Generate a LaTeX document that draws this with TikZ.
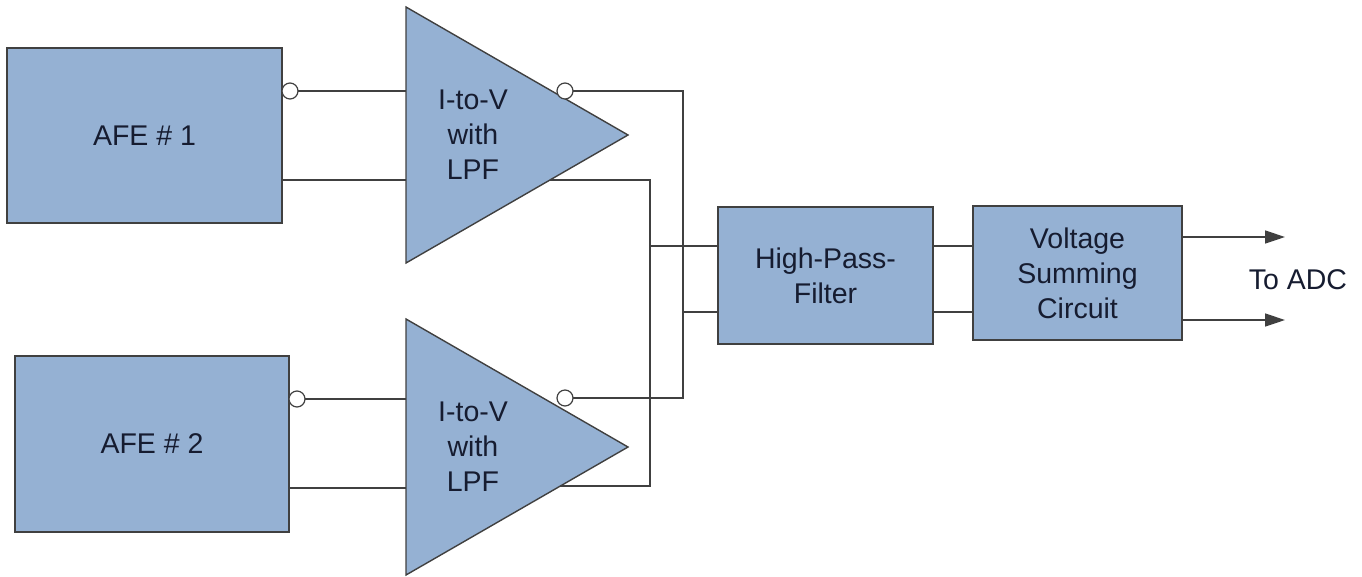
\documentclass[tikz,border=0pt]{standalone}
\usepackage{fontspec}
\setmainfont{Liberation Sans}
\usetikzlibrary{arrows.meta}
\definecolor{boxfill}{RGB}{149,177,211}
\definecolor{edgecol}{RGB}{64,64,64}
\definecolor{txtcol}{RGB}{22,28,48}
\begin{document}
\begin{tikzpicture}[x=1pt,y=-1pt,
  blk/.style={draw=edgecol,line width=1.4pt,fill=boxfill,inner sep=0pt,outer sep=0pt,
    text=txtcol,font=\fontsize{28.5}{35}\selectfont,align=center},
  tri/.style={draw=edgecol,line width=1.4pt,fill=boxfill,line join=miter},
  wire/.style={draw=edgecol,line width=1.4pt},
  bub/.style={circle,draw=edgecol,line width=1.2pt,fill=white,minimum size=16pt,inner sep=0pt,outer sep=0pt},
  lbl/.style={text=txtcol,font=\fontsize{28.5}{35}\selectfont,align=center,inner sep=0pt},
  outarrow/.style={wire,-{Triangle[length=20pt,width=13pt]}}]
\useasboundingbox (0,0) rectangle (1362,576);

% blocks
\node[blk,minimum width=275pt,minimum height=175pt] (afe1) at (144.5,135.5) {AFE \# 1};
\node[blk,minimum width=274pt,minimum height=176pt] (afe2) at (152,444) {AFE \# 2};
\node[blk,minimum width=215pt,minimum height=137pt] (hpf) at (825.5,275.5) {High-Pass-\\Filter};
\node[blk,minimum width=209pt,minimum height=134pt] (vsc) at (1077.5,273) {Voltage\\Summing\\Circuit};

% triangles
\draw[tri] (406,7) coordinate (t1top) -- (628,135) coordinate (t1tip) -- (406,263) coordinate (t1bot) -- cycle;
\draw[tri] (406,319) coordinate (t2top) -- (628,447) coordinate (t2tip) -- (406,575) coordinate (t2bot) -- cycle;
\node[lbl] (t1lbl) at (473,135) {I-to-V\\with\\LPF};
\node[lbl] (t2lbl) at (473,447) {I-to-V\\with\\LPF};

% connection points
\coordinate (t1in1) at (406,91);
\coordinate (t1in2) at (406,180);
\coordinate (t2in1) at (406,399);
\coordinate (t2in2) at (406,488);
\coordinate (t1out2) at (550,180);
\coordinate (t2out2) at (560,486);
\coordinate (jA1) at (650,180);
\coordinate (jA2) at (650,486);
\coordinate (jA) at (650,246);
\coordinate (jB1) at (683,91);
\coordinate (jB2) at (683,398);
\coordinate (jB) at (683,312);
\coordinate (o1) at (1285,237);
\coordinate (o2) at (1285,320);

% AFE to amplifiers
\node[bub] (bA1) at (290,91) {};
\node[bub] (bA2) at (297,399) {};
\draw[wire] (bA1.east) -- (t1in1);
\draw[wire] (afe1.east |- t1in2) -- (t1in2);
\draw[wire] (bA2.east) -- (t2in1);
\draw[wire] (afe2.east |- t2in2) -- (t2in2);

% amplifier outputs
\draw[wire] (t1out2) -- (jA1) -- (jA2) -- (t2out2);
\draw[wire] (jA) -- (hpf.west |- jA);
\node[bub] (bT1) at (565,91) {};
\node[bub] (bT2) at (565,398) {};
\draw[wire] (bT1.east) -- (jB1) -- (jB2) -- (bT2.east);
\draw[wire] (jB) -- (hpf.west |- jB);

% HPF to summing
\draw[wire] (hpf.east |- jA) -- (vsc.west |- jA);
\draw[wire] (hpf.east |- jB) -- (vsc.west |- jB);

% outputs
\draw[outarrow] (vsc.east |- o1) -- (o1);
\draw[outarrow] (vsc.east |- o2) -- (o2);
\node[lbl] (adc) at (1298,280) {To ADC};
\end{tikzpicture}
\end{document}
